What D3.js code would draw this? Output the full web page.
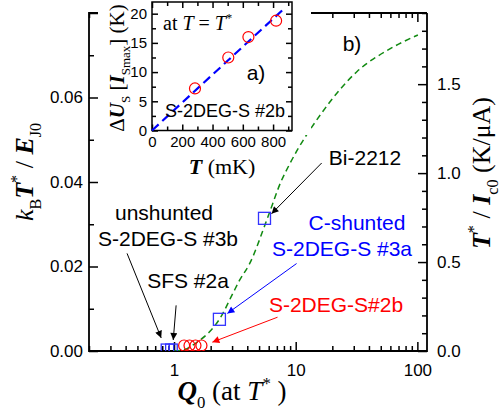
<!DOCTYPE html>
<html>
<head>
<meta charset="utf-8">
<script src="https://cdn.jsdelivr.net/npm/d3@7"></script>
<style>
  body { margin: 0; background: #fff; }
  svg { display: block; }
</style>
</head>
<body>
<script>

// ---- data ----
// main panel b): dashed theory curve, Q0 vs kB T*/EJ0
var curveQ = [1.0, 1.17, 1.55, 1.95, 2.36, 3.04, 3.45, 4.17, 5.87, 7.6, 8.9, 16.7, 31.8, 59.4, 101];
var curveK = [0, 0.0002, 0.0021, 0.0045, 0.0075, 0.0136, 0.0167, 0.0206, 0.0315, 0.0402, 0.0442, 0.0567, 0.0661, 0.0715, 0.0748];

// blue squares (Bi-2212 and C-shunted #3a)
var bigSqQ = [2.36, 5.54];
var bigSqK = [0.0075, 0.0314];
// small blue squares near the axis (unshunted #3b, SFS #2a)
var smallSqQ = [0.846, 0.92, 0.985];
var smallSqK = [0.0007, 0.0007, 0.0007];
// red circles (S-2DEG-S #2b)
var circQ = [1.21, 1.34, 1.50, 1.68];
var circK = [0.0013, 0.0013, 0.0013, 0.0013];

// inset a): T (mK) vs Delta U_S (K)
var insetT = [284, 504, 637, 820];
var insetU = [7.2, 12.5, 16.0, 18.8];
var fitT = [0, 870];
var fitU = [0, 20.8];

// tick labels
var xMajor = [1, 10, 100];
var yLeftMajor = [0, 0.02, 0.04, 0.06];
var yRightMajor = [0, 0.5, 1.0, 1.5];
var insetXMajor = [0, 200, 400, 600, 800];
var insetYMajor = [0, 5, 10, 15, 20];

// arrows, in data coords [Q, kT/EJ]
var arrows = [
  { from: [0.411, 0.0231], to: [0.784, 0.0031], color: "#000" },
  { from: [1.04, 0.0108], to: [0.985, 0.0026], color: "#000" },
  { from: [16.35, 0.0445], to: [6.33, 0.0325], color: "#000" },
  { from: [10.17, 0.0207], to: [2.745, 0.0089], color: "#0000ff" },
  { from: [7.09, 0.0080], to: [2.065, 0.0021], color: "#ff0000" }
];

var w = 500, h = 418;
var sans = "'Liberation Sans', Arial, sans-serif";
var serif = "'Liberation Serif', 'Times New Roman', serif";

var svg = d3.select("body").append("svg")
  .attr("width", w)
  .attr("height", h);

var L = 89, R = 427, T = 13, B = 351;

var x = d3.scaleLog().domain([0.2, 120]).range([L, R]);
var yL = d3.scaleLinear().domain([0, 0.08]).range([B, T]);
var yR = d3.scaleLinear().domain([0, 1.9]).range([B, T]);

// text with sub/superscripts
function rich(sel, parts, size) {
  var shift = 0;
  parts.forEach(function (p) {
    var target = p.sub ? size * 0.3 : (p.sup ? -size * 0.42 : 0);
    var ts = sel.append("tspan").text(p.t)
      .attr("dy", target - shift)
      .attr("font-size", (p.sub || p.sup) ? size * 0.62 : size);
    shift = target;
    if (p.i) ts.attr("font-style", "italic");
    if (p.b) ts.attr("font-weight", "bold");
  });
}

function styleAxis(g, size, font) {
  g.select(".domain").remove();
  g.attr("font-size", size).attr("font-family", font);
  g.selectAll("line").attr("stroke", "#000").attr("stroke-width", 1.5);
  g.selectAll("text").attr("fill", "#000");
}

var clipId = "plotclip";
svg.append("clipPath").attr("id", clipId)
  .append("rect").attr("x", L).attr("y", T).attr("width", R - L).attr("height", B - T);

// ---- main axes ----
var allX = x.ticks().filter(function (d) { return d >= 0.2 && d <= 120; });
var minorX = allX.filter(function (d) { return xMajor.indexOf(d) < 0; });

svg.append("g").attr("transform", "translate(0," + B + ")")
  .call(d3.axisBottom(x).tickValues(minorX).tickSize(-5).tickFormat(""))
  .call(styleAxis, 17, sans);
svg.append("g").attr("transform", "translate(0," + B + ")")
  .call(d3.axisBottom(x).tickValues(xMajor).tickSize(-9).tickPadding(13).tickFormat(d3.format("d")))
  .call(styleAxis, 17, sans);
svg.append("g").attr("transform", "translate(0," + T + ")")
  .call(d3.axisTop(x).tickValues(minorX).tickSize(-5).tickFormat(""))
  .call(styleAxis, 17, sans);
svg.append("g").attr("transform", "translate(0," + T + ")")
  .call(d3.axisTop(x).tickValues(xMajor).tickSize(-9).tickFormat(""))
  .call(styleAxis, 17, sans);

var leftMinor = d3.range(0, 0.0801, 0.01).filter(function (d, i) { return i % 2 == 1; });
svg.append("g").attr("transform", "translate(" + L + ",0)")
  .call(d3.axisLeft(yL).tickValues(leftMinor).tickSize(-5).tickFormat(""))
  .call(styleAxis, 17, sans);
svg.append("g").attr("transform", "translate(" + L + ",0)")
  .call(d3.axisLeft(yL).tickValues(yLeftMajor).tickSize(-9).tickPadding(6).tickFormat(d3.format(".2f")))
  .call(styleAxis, 17, sans);
svg.append("g").attr("transform", "translate(" + L + ",0)")
  .call(d3.axisLeft(yL).tickValues([0.08]).tickSize(-9).tickFormat(""))
  .call(styleAxis, 17, sans);

var rightMinor = d3.range(1, 20).map(function (i) { return i / 10; }).filter(function (d, i) { return (i + 1) % 5 != 0; });
svg.append("g").attr("transform", "translate(" + R + ",0)")
  .call(d3.axisRight(yR).tickValues(rightMinor).tickSize(-5).tickFormat(""))
  .call(styleAxis, 17, sans);
svg.append("g").attr("transform", "translate(" + R + ",0)")
  .call(d3.axisRight(yR).tickValues(yRightMajor).tickSize(-9).tickPadding(10).tickFormat(d3.format(".1f")))
  .call(styleAxis, 17, sans);

// frame
svg.append("path")
  .attr("d", "M" + R + "," + T + "V" + B + "H" + L + "V" + T + "H" + R)
  .attr("fill", "none").attr("stroke", "#000").attr("stroke-width", 1.8);

// ---- main data ----
var plot = svg.append("g").attr("clip-path", "url(#" + clipId + ")");

var curve = d3.zip(curveQ, curveK);
plot.append("path")
  .datum(curve)
  .attr("d", d3.line().x(function (d) { return x(d[0]); }).y(function (d) { return yL(d[1]); }).curve(d3.curveMonotoneX))
  .attr("fill", "none")
  .attr("stroke", "#118a11")
  .attr("stroke-width", 1.5)
  .attr("stroke-dasharray", "6,4");

plot.selectAll("circle.c2b")
  .data(d3.zip(circQ, circK))
  .enter().append("circle")
  .attr("class", "c2b")
  .attr("cx", function (d) { return x(d[0]); })
  .attr("cy", function (d) { return yL(d[1]); })
  .attr("r", 5.5)
  .attr("fill", "none").attr("stroke", "#ff0000").attr("stroke-width", 1.2);

plot.selectAll("rect.small")
  .data(d3.zip(smallSqQ, smallSqK))
  .enter().append("rect")
  .attr("class", "small")
  .attr("x", function (d) { return x(d[0]) - 4; })
  .attr("y", function (d) { return yL(d[1]) - 4; })
  .attr("width", 8).attr("height", 8)
  .attr("fill", "none").attr("stroke", "#3333ff").attr("stroke-width", 1.3);

plot.selectAll("rect.big")
  .data(d3.zip(bigSqQ, bigSqK))
  .enter().append("rect")
  .attr("class", "big")
  .attr("x", function (d) { return x(d[0]) - 6; })
  .attr("y", function (d) { return yL(d[1]) - 6; })
  .attr("width", 12).attr("height", 12)
  .attr("fill", "none").attr("stroke", "#3333ff").attr("stroke-width", 1.3);

// arrows
var defs = svg.append("defs");
arrows.forEach(function (a, i) {
  defs.append("marker")
    .attr("id", "ah" + i)
    .attr("viewBox", "0 0 10 10")
    .attr("refX", 10).attr("refY", 5)
    .attr("markerUnits", "userSpaceOnUse")
    .attr("markerWidth", 9).attr("markerHeight", 7)
    .attr("orient", "auto")
    .append("path").attr("d", "M0,0L10,5L0,10z").attr("fill", a.color);
  svg.append("line")
    .attr("x1", x(a.from[0])).attr("y1", yL(a.from[1]))
    .attr("x2", x(a.to[0])).attr("y2", yL(a.to[1]))
    .attr("stroke", a.color).attr("stroke-width", 1)
    .attr("marker-end", "url(#ah" + i + ")");
});

// annotation labels
var labels = [
  { t: "unshunted", x: 164, y: 220, c: "#000" },
  { t: "S-2DEG-S #3b", x: 168, y: 246, c: "#000" },
  { t: "SFS #2a", x: 188, y: 288, c: "#000" },
  { t: "Bi-2212", x: 365, y: 165, c: "#000" },
  { t: "C-shunted", x: 357, y: 230, c: "#0000ff" },
  { t: "S-2DEG-S #3a", x: 342, y: 256, c: "#0000ff" },
  { t: "S-2DEG-S#2b", x: 336, y: 312, c: "#ff0000" },
  { t: "b)", x: 352, y: 51, c: "#000" }
];
svg.selectAll("text.note")
  .data(labels)
  .enter().append("text")
  .attr("class", "note")
  .attr("x", function (d) { return d.x; })
  .attr("y", function (d) { return d.y; })
  .attr("text-anchor", "middle")
  .attr("font-family", sans)
  .attr("font-size", 21)
  .attr("fill", function (d) { return d.c; })
  .text(function (d) { return d.t; });

// axis titles
var ytl = svg.append("text")
  .attr("transform", "translate(33,172) rotate(-90)")
  .attr("text-anchor", "middle")
  .attr("font-family", serif);
rich(ytl, [
  { t: "k", i: true }, { t: "B", sub: true }, { t: "T", i: true, b: true }, { t: "*", sup: true },
  { t: " / " }, { t: "E", i: true, b: true }, { t: "J0", sub: true }
], 26);

var ytr = svg.append("text")
  .attr("transform", "translate(490,173) rotate(-90)")
  .attr("text-anchor", "middle")
  .attr("font-family", serif);
rich(ytr, [
  { t: "T", i: true, b: true }, { t: "*", sup: true }, { t: " / " }, { t: "I", i: true, b: true },
  { t: "c0", sub: true }, { t: " (K/\u03bcA)" }
], 26);

var xt = svg.append("text")
  .attr("x", 232).attr("y", 400)
  .attr("text-anchor", "middle")
  .attr("font-family", serif);
rich(xt, [
  { t: "Q", i: true, b: true }, { t: "0", sub: true }, { t: " (at " }, { t: "T", i: true },
  { t: "*", sup: true }, { t: "  )" }
], 27);

// ---- inset a) ----
var iL = 152, iR = 292, iT = 2, iB = 130.5;
var ix = d3.scaleLinear().domain([0, 925]).range([iL, iR]);
var iy = d3.scaleLinear().domain([0, 22]).range([iB, iT]);

svg.append("rect")
  .attr("x", 98).attr("y", 0).attr("width", 213).attr("height", 135)
  .attr("fill", "#fff");

var inset = svg.append("g");
var insetXMinor = d3.range(100, 901, 200);
var insetYMinor = d3.range(2.5, 21, 5);

inset.append("g").attr("transform", "translate(0," + iB + ")")
  .call(d3.axisBottom(ix).tickValues(insetXMinor).tickSize(-4).tickFormat(""))
  .call(styleAxis, 15, sans);
inset.append("g").attr("transform", "translate(0," + iB + ")")
  .call(d3.axisBottom(ix).tickValues(insetXMajor).tickSize(-6).tickPadding(6).tickFormat(d3.format("d")))
  .call(styleAxis, 15, sans);
inset.append("g").attr("transform", "translate(0," + iT + ")")
  .call(d3.axisTop(ix).tickValues(insetXMinor).tickSize(-4).tickFormat(""))
  .call(styleAxis, 15, sans);
inset.append("g").attr("transform", "translate(0," + iT + ")")
  .call(d3.axisTop(ix).tickValues(insetXMajor).tickSize(-6).tickFormat(""))
  .call(styleAxis, 15, sans);
inset.append("g").attr("transform", "translate(" + iL + ",0)")
  .call(d3.axisLeft(iy).tickValues(insetYMinor).tickSize(-4).tickFormat(""))
  .call(styleAxis, 15, sans);
inset.append("g").attr("transform", "translate(" + iL + ",0)")
  .call(d3.axisLeft(iy).tickValues(insetYMajor).tickSize(-6).tickPadding(5).tickFormat(d3.format("d")))
  .call(styleAxis, 15, sans);
inset.append("g").attr("transform", "translate(" + iR + ",0)")
  .call(d3.axisRight(iy).tickValues(insetYMinor).tickSize(-4).tickFormat(""))
  .call(styleAxis, 15, sans);
inset.append("g").attr("transform", "translate(" + iR + ",0)")
  .call(d3.axisRight(iy).tickValues(insetYMajor).tickSize(-6).tickFormat(""))
  .call(styleAxis, 15, sans);

inset.append("rect")
  .attr("x", iL).attr("y", iT).attr("width", iR - iL).attr("height", iB - iT)
  .attr("fill", "none").attr("stroke", "#000").attr("stroke-width", 1.5);

inset.append("path")
  .datum(d3.zip(fitT, fitU))
  .attr("d", d3.line().x(function (d) { return ix(d[0]); }).y(function (d) { return iy(d[1]); }))
  .attr("stroke", "#0000ff").attr("stroke-width", 2.2)
  .attr("stroke-dasharray", "9,5").attr("fill", "none");

inset.selectAll("circle")
  .data(d3.zip(insetT, insetU))
  .enter().append("circle")
  .attr("cx", function (d) { return ix(d[0]); })
  .attr("cy", function (d) { return iy(d[1]); })
  .attr("r", 5.5)
  .attr("fill", "none").attr("stroke", "#ff0000").attr("stroke-width", 1.2);

var at = inset.append("text").attr("x", 163).attr("y", 30).attr("font-family", serif);
rich(at, [{ t: "at " }, { t: "T", i: true }, { t: " = " }, { t: "T", i: true }, { t: "*", sup: true }], 20);

inset.append("text").attr("x", 256).attr("y", 80).attr("text-anchor", "middle")
  .attr("font-family", sans).attr("font-size", 21).text("a)");
inset.append("text").attr("x", 225).attr("y", 117).attr("text-anchor", "middle")
  .attr("font-family", sans).attr("font-size", 18).text("S-2DEG-S #2b");

var ixt = inset.append("text").attr("x", 222).attr("y", 174).attr("text-anchor", "middle")
  .attr("font-family", serif);
rich(ixt, [{ t: "T", i: true, b: true }, { t: " (mK)" }], 22);

var iyt = inset.append("text")
  .attr("transform", "translate(124,68) rotate(-90)")
  .attr("text-anchor", "middle")
  .attr("font-family", serif);
rich(iyt, [
  { t: "\u0394" }, { t: "U", i: true, b: true }, { t: "S", sub: true }, { t: " [" },
  { t: "I", i: true, b: true }, { t: "Smax", sub: true }, { t: "] (K)" }
], 21);

</script>
</body>
</html>
